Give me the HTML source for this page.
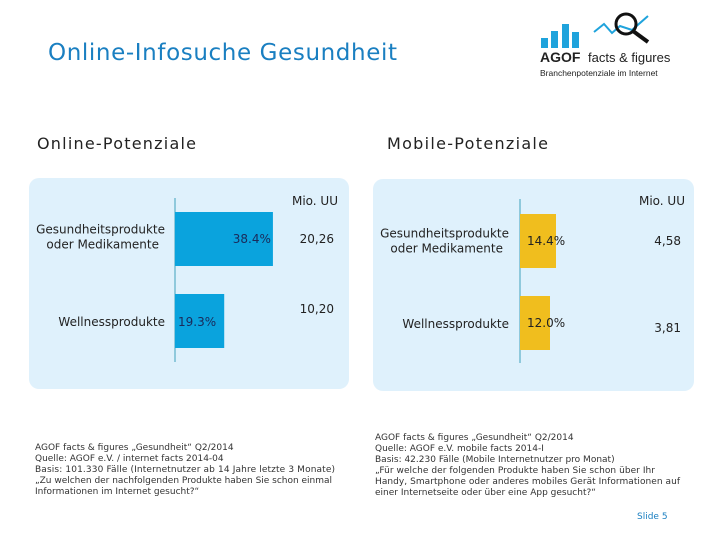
<!DOCTYPE html>
<html><head><meta charset="utf-8">
<style>
body{margin:0;width:720px;height:540px;background:#fff;overflow:hidden;font-family:"DejaVu Sans","Liberation Sans",sans-serif;}
svg{display:block}
</style></head>
<body>
<svg width="720" height="540" viewBox="0 0 720 540" xmlns="http://www.w3.org/2000/svg" font-family="DejaVu Sans, Liberation Sans, sans-serif">
<text x="48" y="60" font-size="23" textLength="349" fill="#1a7fc1">Online-Infosuche Gesundheit</text>
<g>
<rect x="541" y="38" width="7" height="10" fill="#1fa3dc"/>
<rect x="551" y="31" width="7" height="17" fill="#1fa3dc"/>
<rect x="562" y="24" width="7" height="24" fill="#1fa3dc"/>
<rect x="572" y="32" width="7" height="16" fill="#1fa3dc"/>
<polyline points="594,32 604,24 612,33 620,26 632,30 648,16" fill="none" stroke="#1fa3dc" stroke-width="2"/>
<circle cx="626" cy="24" r="10" fill="none" stroke="#111" stroke-width="3"/>
<line x1="633" y1="31" x2="648" y2="42" stroke="#111" stroke-width="4"/>
<text x="540" y="62" font-size="14" font-weight="bold" fill="#222" font-family="Liberation Sans, sans-serif">AGOF</text>
<text x="588" y="62" font-size="13" fill="#222" font-family="Liberation Sans, sans-serif">facts &amp; figures</text>
<text x="540" y="76" font-size="8.5" fill="#222" font-family="Liberation Sans, sans-serif">Branchenpotenziale im Internet</text>
</g>
<text x="37" y="149" font-size="16" textLength="159" fill="#222">Online-Potenziale</text>
<text x="387" y="149" font-size="16" textLength="161" fill="#222">Mobile-Potenziale</text>
<rect x="29" y="178" width="320" height="211" rx="10" fill="#dff1fc"/>
<rect x="373" y="179" width="321" height="212" rx="10" fill="#dff1fc"/>
<g id="left"></g>
<g id="right"></g>
<g font-size="9" fill="#333">
<text x="35" y="450">AGOF facts &amp; figures „Gesundheit“ Q2/2014</text>
<text x="35" y="461">Quelle: AGOF e.V. / internet facts 2014-04</text>
<text x="35" y="472" textLength="300">Basis: 101.330 Fälle (Internetnutzer ab 14 Jahre letzte 3 Monate)</text>
<text x="35" y="483" textLength="297">„Zu welchen der nachfolgenden Produkte haben Sie schon einmal</text>
<text x="35" y="494">Informationen im Internet gesucht?“</text>
</g>
<g font-size="9" fill="#333">
<text x="375" y="440">AGOF facts &amp; figures „Gesundheit“ Q2/2014</text>
<text x="375" y="451">Quelle: AGOF e.V. mobile facts 2014-I</text>
<text x="375" y="462">Basis: 42.230 Fälle (Mobile Internetnutzer pro Monat)</text>
<text x="375" y="473" textLength="280">„Für welche der folgenden Produkte haben Sie schon über Ihr</text>
<text x="375" y="484" textLength="305">Handy, Smartphone oder anderes mobiles Gerät Informationen auf</text>
<text x="375" y="495">einer Internetseite oder über eine App gesucht?“</text>
</g>
<text x="637" y="519" font-size="9" fill="#1a7fc1">Slide 5</text>
</svg>
<script>
const categories = ["Gesundheitsprodukte|oder Medikamente", "Wellnessprodukte"];
const onlineShare = [38.4, 19.3];
const onlineUU = ["20,26", "10,20"];
const mobileShare = [14.4, 12.0];
const mobileUU = ["4,58", "3,81"];
const NS = "http://www.w3.org/2000/svg";
function mk(parent, tag, attrs, text){const e=document.createElementNS(NS,tag);for(const k in attrs)e.setAttribute(k,attrs[k]);if(text!==undefined)e.textContent=text;parent.appendChild(e);return e;}
function draw(gid, shares, uus, cfg){
  const g=document.getElementById(gid);
  const x=v=>cfg.x0+v*cfg.scale;
  const y=i=>cfg.y0+i*cfg.step;
  const ax=mk(g,'line',{x1:cfg.x0,x2:cfg.x0,y1:cfg.axTop,y2:cfg.axBot,stroke:'#8fc9dc','stroke-width':2});
  
  
  const h=mk(g,'text',{x:cfg.uuX,y:cfg.headY,'font-size':12,fill:'#222','text-anchor':'end'},'Mio. UU');
  
  
  shares.forEach((v,i)=>{
    const r=mk(g,'rect',{x:cfg.x0,y:y(i),width:x(v)-cfg.x0,height:54,fill:cfg.color});
    
    
    const lines=categories[i].split('|');
    const cy=y(i)+27;
    const labCy=cy+cfg.labDy[i];
    lines.forEach((ln,j)=>{
      const t=mk(g,'text',{x:cfg.labX,y:labCy+(j-(lines.length-1)/2)*15+4,'font-size':12,fill:'#222','text-anchor':'end'},ln);
      if(lines.length>1&&j===1){t.setAttribute('x',cfg.labX-6);}
      
      
    });
    const vl=mk(g,'text',{x:cfg.valAnchor(i,v),y:cy+cfg.valDy[i],'font-size':12,fill:cfg.valColor,'text-anchor':cfg.valAlign(i)},v.toFixed(1)+'%');
    
    
    const u=mk(g,'text',{x:cfg.uuX-cfg.uuPad,y:cy+cfg.uuDy[i],'font-size':12,fill:'#222','text-anchor':'end'},uus[i]);
    
    
  });
}
function x0r(v){return 175+v*2.55;}
draw('left',onlineShare,onlineUU,{x0:175,scale:2.55,y0:212,step:82,axTop:198,axBot:362,color:'#0aa3dd',labX:165,labDy:[-2,1],uuX:338,uuPad:4,headY:205,
  valColor:'#1a2a5a',valDy:[4,5],uuDy:[4,-8],
  valAnchor:(i,v)=>i===0?x0r(v)-2:178,valAlign:i=>i===0?'end':'start'});
draw('right',mobileShare,mobileUU,{x0:520,scale:2.5,y0:214,step:82,axTop:199,axBot:363,color:'#f0be1e',labX:509,labDy:[0,1],uuX:685,uuPad:4,headY:205,
  valColor:'#222',valDy:[4,4],uuDy:[4,9],
  valAnchor:()=>527,valAlign:()=>'start'});
</script>
</body></html>
